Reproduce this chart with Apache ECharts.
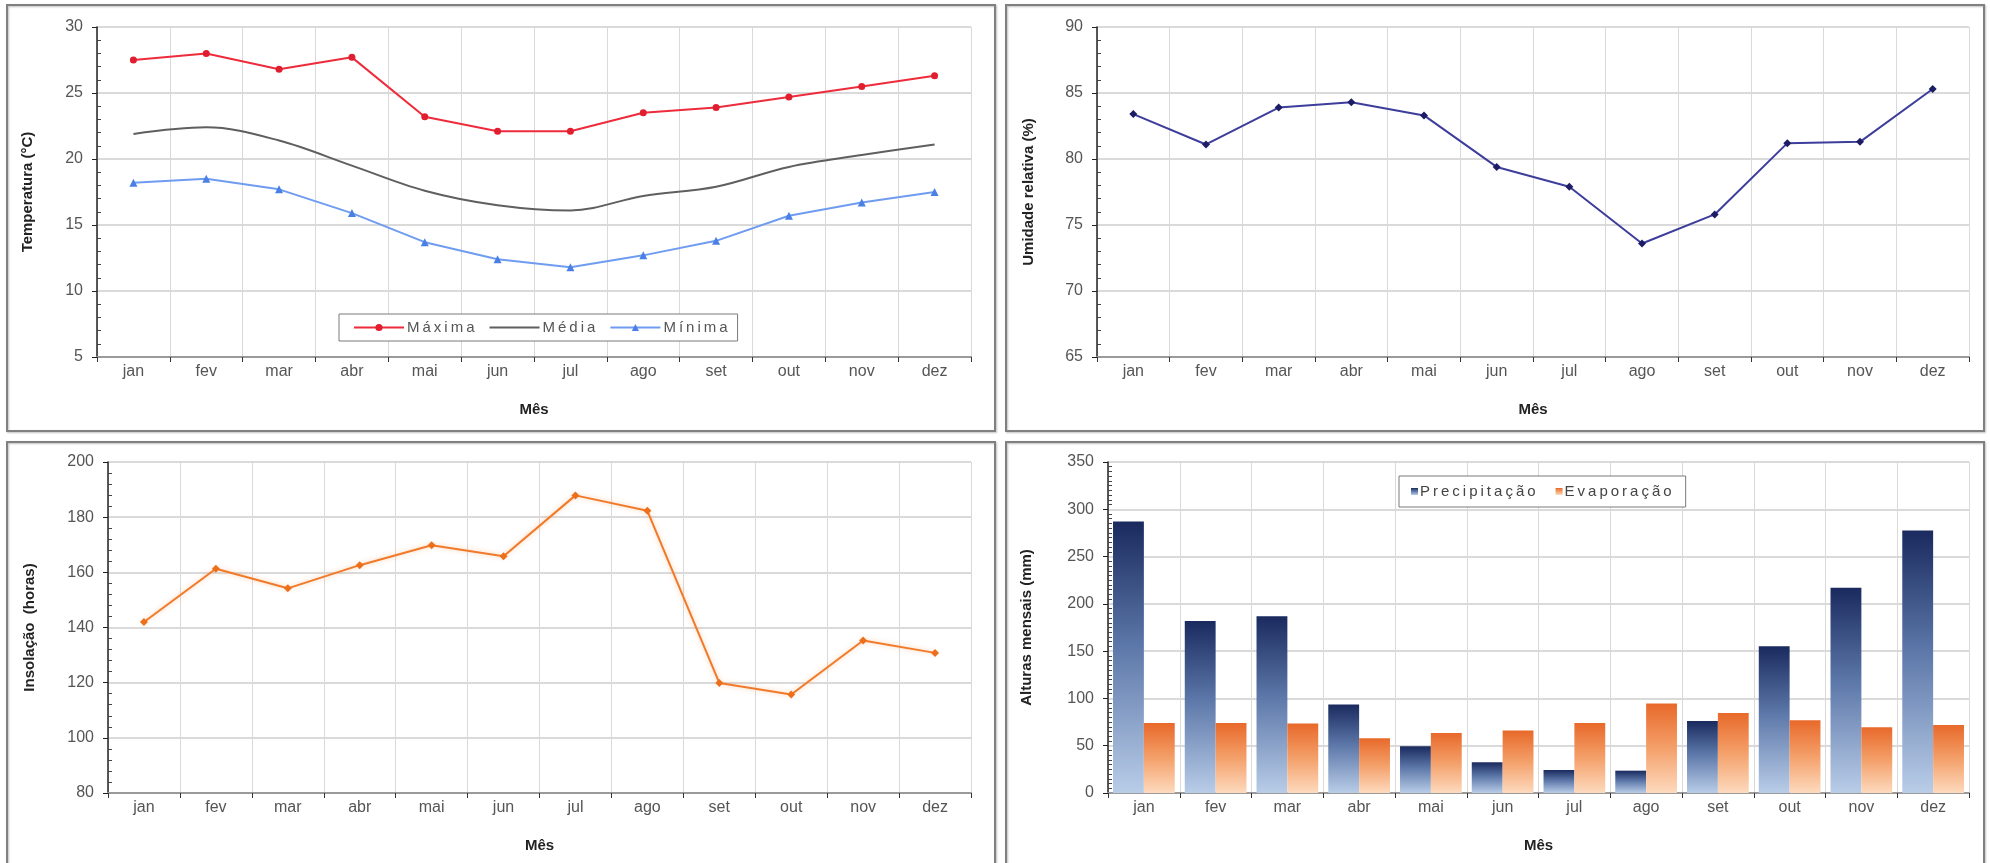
<!DOCTYPE html>
<html>
<head>
<meta charset="utf-8">
<script src="https://cdn.jsdelivr.net/npm/echarts@6/dist/echarts.min.js"></script>
<style>
  html, body { margin: 0; padding: 0; background: #ffffff; }
  #chart { width: 1990px; height: 863px; }
</style>
</head>
<body>
<div id="chart"></div>
<script>
// Normais climatológicas mensais
const meses = ['jan', 'fev', 'mar', 'abr', 'mai', 'jun', 'jul', 'ago', 'set', 'out', 'nov', 'dez'];

const tempMaxima = [27.5, 28.0, 26.8, 27.7, 23.2, 22.1, 22.1, 23.5, 23.9, 24.7, 25.5, 26.3];
const tempMedia  = [21.9, 22.4, 21.4, 19.5, 17.6, 16.5, 16.1, 17.2, 17.9, 19.4, 20.3, 21.1];
const tempMinima = [18.2, 18.5, 17.7, 15.9, 13.7, 12.4, 11.8, 12.7, 13.8, 15.7, 16.7, 17.5];

const umidade = [83.4, 81.1, 83.9, 84.3, 83.3, 79.4, 77.9, 73.6, 75.8, 81.2, 81.3, 85.3];

const insolacao = [142.0, 161.3, 154.2, 162.6, 169.8, 165.8, 187.9, 182.3, 119.9, 115.7, 135.3, 130.8];

const precipitacao = [287.0, 182.0, 187.0, 93.5, 49.4, 32.5, 24.3, 23.6, 76.2, 155.3, 217.0, 277.7];
const evaporacao   = [74.0, 74.0, 73.4, 57.9, 63.5, 66.0, 74.0, 94.6, 84.7, 77.0, 69.5, 72.0];

// Escalas dos eixos verticais: [mínimo, máximo, intervalo]
const escalaTemp = [5, 30, 5];
const escalaUmid = [65, 90, 5];
const escalaInso = [80, 200, 20];
const escalaAlt  = [0, 350, 50];

const FONT = '"Liberation Sans", Arial, sans-serif';
const spaced = s => s.split('').join('\u2009');

function xAxisCfg(gridIndex) {
  return {
    type: 'category',
    gridIndex: gridIndex,
    data: meses,
    boundaryGap: true,
    name: 'Mês',
    nameLocation: 'middle',
    nameGap: 45,
    nameTextStyle: { fontFamily: FONT, fontSize: 15, fontWeight: 'bold', color: '#222' },
    axisLine: { lineStyle: { color: '#9a9a9a', width: 2 } },
    axisTick: { show: true, length: 5, lineStyle: { color: '#333', width: 1 } },
    axisLabel: { fontFamily: FONT, fontSize: 16, color: '#555', margin: 7 },
    splitLine: { show: true, lineStyle: { color: '#d9d9d9', width: 1 } }
  };
}

// Eixo principal: linha, rótulos, marcas maiores para fora e grade
function yAxisCfg(gridIndex, escala, nome, gap) {
  return {
    type: 'value',
    gridIndex: gridIndex,
    position: 'left',
    min: escala[0],
    max: escala[1],
    interval: escala[2],
    name: nome,
    nameLocation: 'middle',
    nameGap: gap,
    nameTextStyle: { fontFamily: FONT, fontSize: 15, fontWeight: 'bold', color: '#222' },
    axisLine: { show: true, lineStyle: { color: '#222', width: 1.5 } },
    axisTick: { show: true, length: 5, lineStyle: { color: '#222' } },
    axisLabel: { fontFamily: FONT, fontSize: 16, color: '#555', margin: 14 },
    splitLine: { show: true, lineStyle: { color: '#dadada', width: 2 } }
  };
}

// Eixo auxiliar sobreposto: só as marcas menores, voltadas para dentro
function yMinorCfg(gridIndex, escala, minorSplit) {
  return {
    type: 'value',
    gridIndex: gridIndex,
    position: 'left',
    offset: 0,
    min: escala[0],
    max: escala[1],
    interval: escala[2],
    axisLine: { show: false },
    axisTick: { show: false, inside: true },
    minorTick: { show: true, splitNumber: minorSplit, length: 4, lineStyle: { color: '#444' } },
    axisLabel: { show: false },
    splitLine: { show: false }
  };
}

function painel(x, y, w, h) {
  return {
    type: 'rect',
    shape: { x: x, y: y, width: w, height: h },
    style: { fill: 'none', stroke: '#808080', lineWidth: 2, shadowColor: 'rgba(0,0,0,0.25)', shadowBlur: 2, shadowOffsetX: 1, shadowOffsetY: 1 },
    silent: true,
    z: 0
  };
}

const chart = echarts.init(document.getElementById('chart'), null, { renderer: 'canvas' });

const option = {
  animation: false,
  backgroundColor: '#ffffff',
  graphic: [
    painel(7, 5, 988, 426),
    painel(1006, 5, 978, 426),
    painel(7, 442, 988, 430),
    painel(1006, 442, 978, 430)
  ],
  grid: [
    { left: 97,   top: 27,  width: 874, height: 330 },
    { left: 1097, top: 27,  width: 872, height: 330 },
    { left: 108,  top: 462, width: 863, height: 331 },
    { left: 1108, top: 462, width: 861, height: 331 }
  ],
  xAxis: [xAxisCfg(0), xAxisCfg(1), xAxisCfg(2), xAxisCfg(3)],
  yAxis: [
    yAxisCfg(0, escalaTemp, 'Temperatura (°C)', 62),
    yAxisCfg(1, escalaUmid, 'Umidade relativa (%)', 61),
    yAxisCfg(2, escalaInso, 'Insolação  (horas)', 71),
    yAxisCfg(3, escalaAlt, 'Alturas mensais (mm)', 74),
    yMinorCfg(0, escalaTemp, 5),
    yMinorCfg(1, escalaUmid, 5),
    yMinorCfg(2, escalaInso, 5),
    yMinorCfg(3, escalaAlt, 10)
  ],
  legend: [
    {
      data: [
        'Máxima',
        { name: 'Média', itemStyle: { color: 'rgba(0,0,0,0)', borderWidth: 0 } },
        'Mínima'
      ],
      left: 339, top: 314,
      orient: 'horizontal',
      padding: [6, 10, 6, 14],
      itemGap: 14,
      itemWidth: 50,
      itemHeight: 9,
      borderColor: '#7a7a7a',
      borderWidth: 1,
      backgroundColor: '#ffffff',
      formatter: spaced,
      textStyle: { fontFamily: FONT, fontSize: 15, color: '#555', padding: [0, 0, 0, -2] }
    },
    {
      data: ['Precipitação', 'Evaporação'],
      left: 1399, top: 476,
      orient: 'horizontal',
      padding: [8, 14, 8, 12],
      itemGap: 20,
      itemWidth: 7,
      itemHeight: 7,
      icon: 'rect',
      borderColor: '#7a7a7a',
      borderWidth: 1,
      backgroundColor: '#ffffff',
      formatter: spaced,
      textStyle: { fontFamily: FONT, fontSize: 15, color: '#444', padding: [0, 0, 0, -3] }
    }
  ],
  series: [
    {
      name: 'Máxima', type: 'line', xAxisIndex: 0, yAxisIndex: 0,
      data: tempMaxima,
      symbol: 'circle', symbolSize: 7,
      lineStyle: { color: '#ee2b3b', width: 2 },
      itemStyle: { color: '#e01e30' },
      z: 3
    },
    {
      name: 'Média', type: 'line', xAxisIndex: 0, yAxisIndex: 0,
      data: tempMedia,
      smooth: 0.35,
      showSymbol: false, symbol: 'none',
      lineStyle: { color: '#5f5f5f', width: 2 },
      itemStyle: { color: '#5f5f5f' },
      z: 2
    },
    {
      name: 'Mínima', type: 'line', xAxisIndex: 0, yAxisIndex: 0,
      data: tempMinima,
      symbol: 'triangle', symbolSize: 8,
      lineStyle: { color: '#6f9cf0', width: 2 },
      itemStyle: { color: '#4a7fe6' },
      z: 3
    },
    {
      name: 'Umidade relativa', type: 'line', xAxisIndex: 1, yAxisIndex: 1,
      data: umidade,
      symbol: 'diamond', symbolSize: 8,
      lineStyle: { color: '#3d3d9c', width: 2 },
      itemStyle: { color: '#1d1d66' }
    },
    {
      name: 'Insolação', type: 'line', xAxisIndex: 2, yAxisIndex: 2,
      data: insolacao,
      symbol: 'diamond', symbolSize: 8,
      lineStyle: { color: '#f07a2a', width: 2, shadowColor: 'rgba(245,140,60,0.45)', shadowBlur: 5 },
      itemStyle: { color: '#ec6f1c' }
    },
    {
      name: 'Precipitação', type: 'bar', xAxisIndex: 3, yAxisIndex: 3,
      data: precipitacao,
      color: '#24356e',
      barGap: '0%',
      barCategoryGap: '14%',
      itemStyle: {
        color: {
          type: 'linear', x: 0, y: 0, x2: 0, y2: 1,
          colorStops: [
            { offset: 0, color: '#1a2a5e' },
            { offset: 0.45, color: '#5b76a8' },
            { offset: 1, color: '#b9cde8' }
          ]
        }
      }
    },
    {
      name: 'Evaporação', type: 'bar', xAxisIndex: 3, yAxisIndex: 3,
      data: evaporacao,
      color: '#f07a3a',
      barGap: '0%',
      barCategoryGap: '14%',
      itemStyle: {
        color: {
          type: 'linear', x: 0, y: 0, x2: 0, y2: 1,
          colorStops: [
            { offset: 0, color: '#e8692a' },
            { offset: 0.5, color: '#f4a06a' },
            { offset: 1, color: '#fddabe' }
          ]
        }
      }
    }
  ]
};

chart.setOption(option);
</script>
</body>
</html>
